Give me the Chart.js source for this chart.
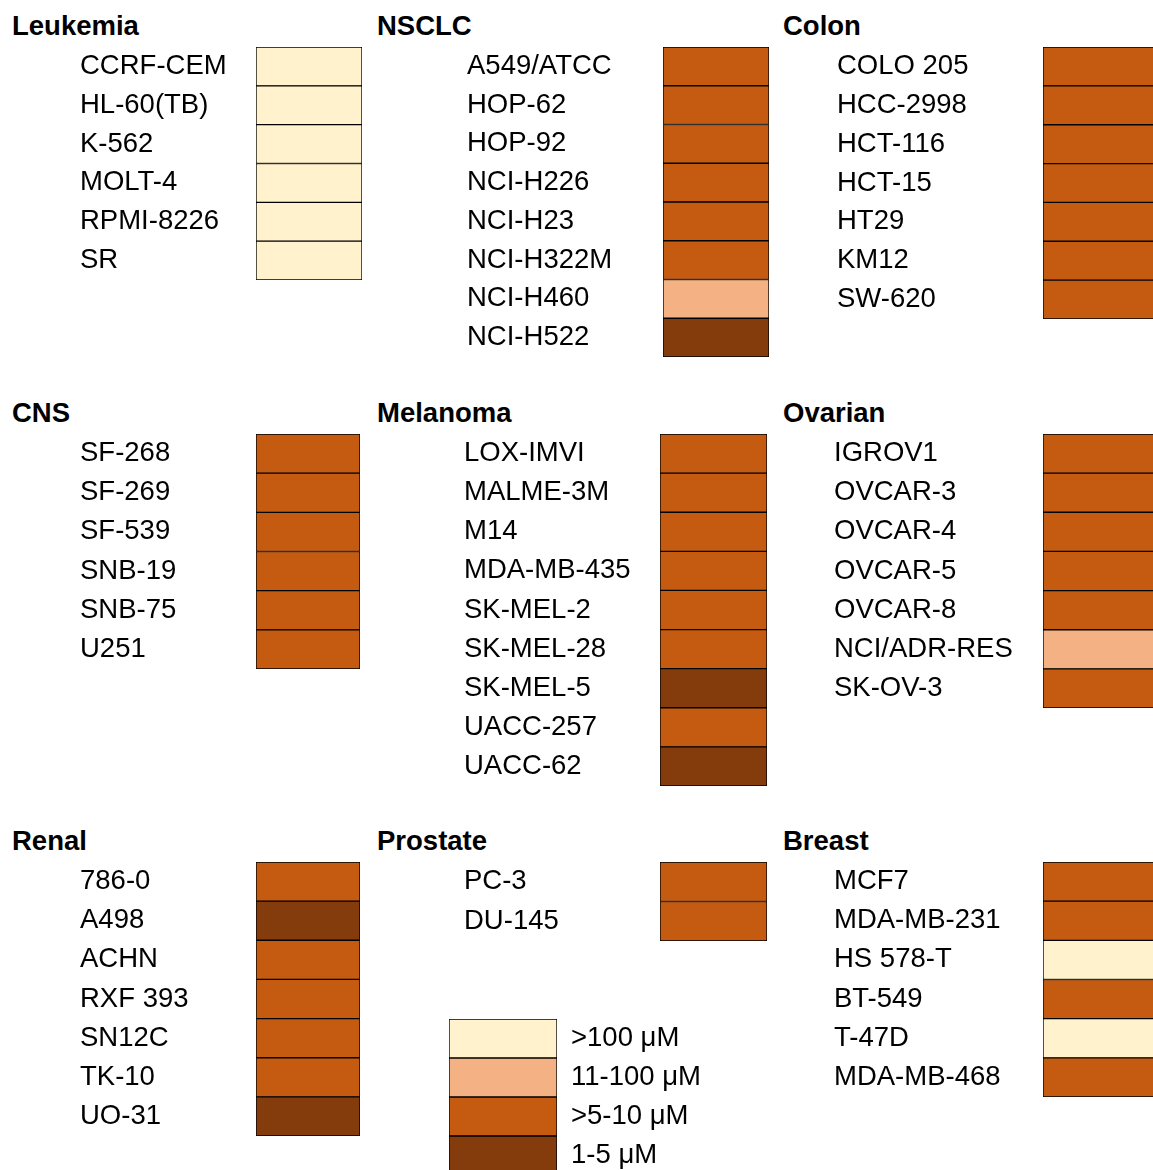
<!DOCTYPE html>
<html>
<head>
<meta charset="utf-8">
<script src="https://cdn.jsdelivr.net/npm/chart.js@4.4.0/dist/chart.umd.min.js"></script>
<style>
  html, body { margin: 0; padding: 0; overflow: hidden; background: #fff; }
  body { width: 1153px; height: 1170px; position: relative; font-family: "Liberation Sans", Arial, sans-serif; }
  .title { position: absolute; font-weight: bold; font-size: 27.5px; line-height: 32px; color: #000; white-space: nowrap; }
  canvas { position: absolute; }
</style>
</head>
<body>
<script>
// class index: 0 = >100 uM, 1 = 11-100 uM, 2 = >5-10 uM, 3 = 1-5 uM
const classColors = ["#FFF2CC", "#F4B183", "#C55A11", "#843C0C"];
const legendLabels = [">100 μM", "11-100 μM", ">5-10 μM", "1-5 μM"];
const legendClasses = [0, 1, 2, 3];

const leukemiaLines = ["CCRF-CEM", "HL-60(TB)", "K-562", "MOLT-4", "RPMI-8226", "SR"];
const leukemiaClasses = [0, 0, 0, 0, 0, 0];

const nsclcLines = ["A549/ATCC", "HOP-62", "HOP-92", "NCI-H226", "NCI-H23", "NCI-H322M", "NCI-H460", "NCI-H522"];
const nsclcClasses = [2, 2, 2, 2, 2, 2, 1, 3];

const colonLines = ["COLO 205", "HCC-2998", "HCT-116", "HCT-15", "HT29", "KM12", "SW-620"];
const colonClasses = [2, 2, 2, 2, 2, 2, 2];

const cnsLines = ["SF-268", "SF-269", "SF-539", "SNB-19", "SNB-75", "U251"];
const cnsClasses = [2, 2, 2, 2, 2, 2];

const melanomaLines = ["LOX-IMVI", "MALME-3M", "M14", "MDA-MB-435", "SK-MEL-2", "SK-MEL-28", "SK-MEL-5", "UACC-257", "UACC-62"];
const melanomaClasses = [2, 2, 2, 2, 2, 2, 3, 2, 3];

const ovarianLines = ["IGROV1", "OVCAR-3", "OVCAR-4", "OVCAR-5", "OVCAR-8", "NCI/ADR-RES", "SK-OV-3"];
const ovarianClasses = [2, 2, 2, 2, 2, 1, 2];

const renalLines = ["786-0", "A498", "ACHN", "RXF 393", "SN12C", "TK-10", "UO-31"];
const renalClasses = [2, 3, 2, 2, 2, 2, 3];

const prostateLines = ["PC-3", "DU-145"];
const prostateClasses = [2, 2];

const breastLines = ["MCF7", "MDA-MB-231", "HS 578-T", "BT-549", "T-47D", "MDA-MB-468"];
const breastClasses = [2, 2, 0, 2, 0, 2];

const FONT = "'Liberation Sans', Arial, sans-serif";

const panels = [
  { title: "Leukemia", lines: leukemiaLines, classes: leukemiaClasses, titleX: 12, left: 80, top: 47, rowH: 38.8, width: 282, axisWidth: 176 },
  { title: "NSCLC", lines: nsclcLines, classes: nsclcClasses, titleX: 377, left: 467, top: 47, rowH: 38.8, width: 302, axisWidth: 196 },
  { title: "Colon", lines: colonLines, classes: colonClasses, titleX: 783, left: 837, top: 47, rowH: 38.8, width: 323, axisWidth: 206 },
  { title: "CNS", lines: cnsLines, classes: cnsClasses, titleX: 12, left: 80, top: 434, rowH: 39.1, width: 280, axisWidth: 176 },
  { title: "Melanoma", lines: melanomaLines, classes: melanomaClasses, titleX: 377, left: 464, top: 434, rowH: 39.1, width: 303, axisWidth: 196 },
  { title: "Ovarian", lines: ovarianLines, classes: ovarianClasses, titleX: 783, left: 834, top: 434, rowH: 39.1, width: 326, axisWidth: 209 },
  { title: "Renal", lines: renalLines, classes: renalClasses, titleX: 12, left: 80, top: 862, rowH: 39.1, width: 280, axisWidth: 176 },
  { title: "Prostate", lines: prostateLines, classes: prostateClasses, titleX: 377, left: 464, top: 862, rowH: 39.5, width: 303, axisWidth: 196 },
  { title: "Breast", lines: breastLines, classes: breastClasses, titleX: 783, left: 834, top: 862, rowH: 39.1, width: 326, axisWidth: 209 },
  { title: null, lines: legendLabels, classes: legendClasses, left: 449, top: 1019, rowH: 39, width: 290, axisWidth: 182, axis: "right" },
];

function makePanel(p) {
  const axis = p.axis || "left";

  if (p.title) {
    const t = document.createElement("div");
    t.className = "title";
    t.textContent = p.title;
    t.style.left = p.titleX + "px";
    t.style.top = p.top - 21 - 16 + "px";
    document.body.appendChild(t);
  }

  const canvas = document.createElement("canvas");
  canvas.width = p.width;
  canvas.height = Math.round(p.lines.length * p.rowH);
  canvas.style.left = p.left + "px";
  canvas.style.top = p.top + "px";
  document.body.appendChild(canvas);

  new Chart(canvas, {
    type: "bar",
    data: {
      labels: p.lines,
      datasets: [
        {
          data: p.classes.map(() => 1),
          backgroundColor: p.classes.map((c) => classColors[c]),
          borderColor: "#000",
          borderWidth: 1,
          borderSkipped: false,
          barPercentage: 1,
          categoryPercentage: 1,
        },
      ],
    },
    options: {
      indexAxis: "y",
      responsive: false,
      animation: false,
      devicePixelRatio: 1,
      layout: { padding: 0 },
      plugins: {
        legend: { display: false },
        tooltip: { enabled: false },
      },
      scales: {
        x: { display: false, min: 0, max: 1 },
        y: {
          position: axis,
          grid: { display: false, drawTicks: false },
          border: { display: false },
          ticks: {
            color: "#000",
            font: { family: FONT, size: 27.5 },
            crossAlign: axis === "left" ? "far" : "near",
            padding: axis === "left" ? 0 : 14,
            autoSkip: false,
          },
          afterFit: function (scale) {
            scale.width = p.axisWidth;
            // labels sit in the middle of each row, no room needed above/below
            scale.paddingTop = 0;
            scale.paddingBottom = 0;
          },
        },
      },
    },
  });
}

panels.forEach(makePanel);
</script>
</body>
</html>
